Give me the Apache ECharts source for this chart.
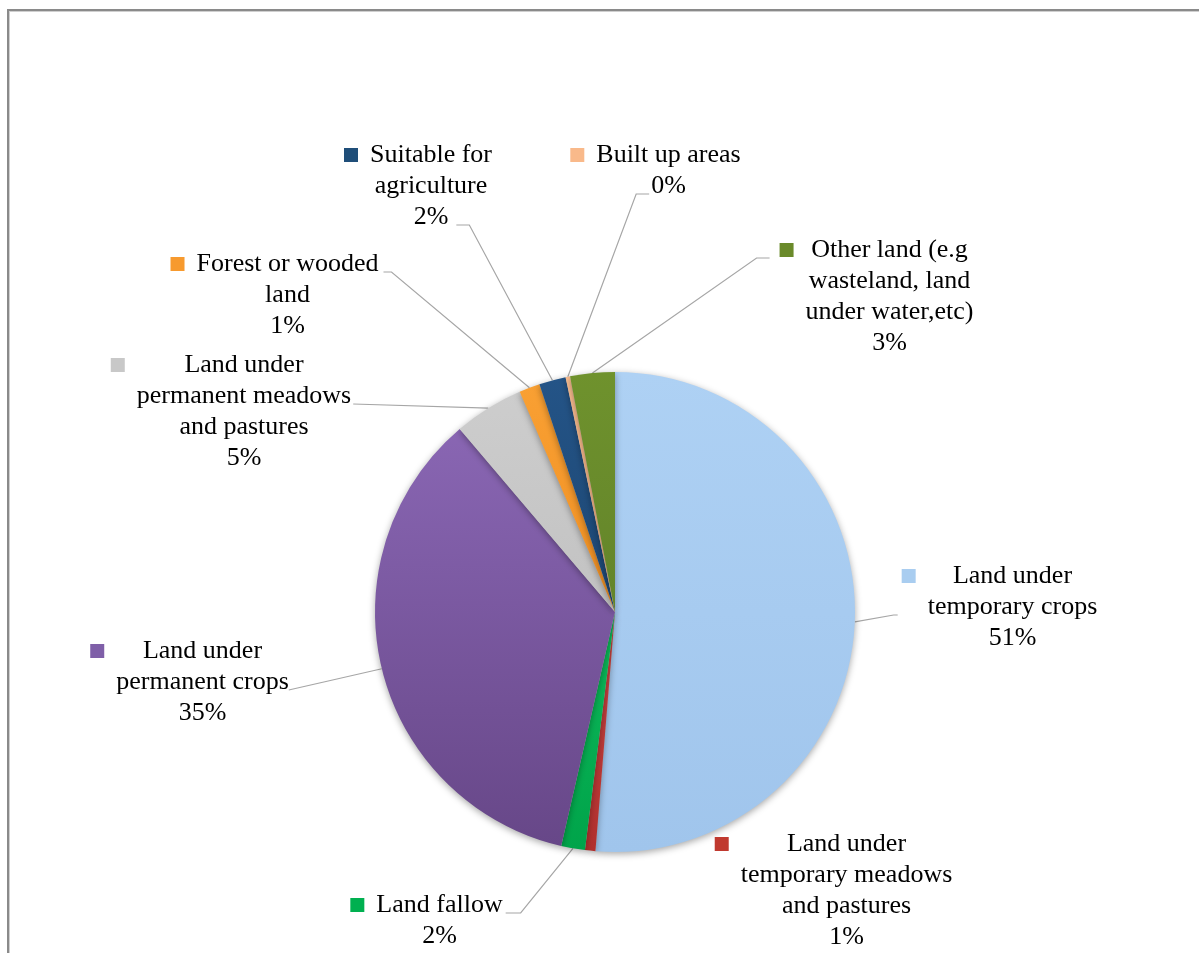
<!DOCTYPE html>
<html><head><meta charset="utf-8">
<script src="https://cdn.jsdelivr.net/npm/echarts@6/dist/echarts.min.js"></script>
<style>
html,body{margin:0;padding:0;background:#fff;overflow:hidden;}
#frame{position:absolute;left:7px;top:9px;width:1400px;height:1200px;border-left:2px solid #8a8a8a;border-top:2px solid #8a8a8a;box-shadow: inset 1px 1px 0 #cfcfcf;}
#chart{position:absolute;left:0;top:0;width:1199px;height:953px;}
</style></head><body>
<div id="frame"></div><div id="chart"></div>
<script>
// Categories (wrapped as in the original labels)
const categories = [
  'Land under\ntemporary crops',
  'Land under\ntemporary meadows\nand pastures',
  'Land fallow',
  'Land under\npermanent crops',
  'Land under\npermanent meadows\nand pastures',
  'Forest or wooded\nland',
  'Suitable for\nagriculture',
  'Built up areas',
  'Other land (e.g\nwasteland, land\nunder water,etc)'
];
// Share of land area (%)
const values = [51.3, 0.7, 1.6, 35.2, 4.7, 1.4, 1.8, 0.3, 3.0];

// Styles / layout (kept apart from data)
const colorsLight = ['#AED1F4', '#C94543', '#0DB85A', '#8966B3', '#CDCDCD', '#F9A033', '#245487', '#F9BC8F', '#6F922D'];
const colorsDark  = ['#A0C5EC', '#B1302E', '#00A44A', '#674788', '#C2C2C2', '#F08F22', '#1C4672', '#F4B080', '#63842A'];
const keyColors   = ['#A9CDF0', '#C0392F', '#00B050', '#7F5FA8', '#C8C8C8', '#F79A2E', '#1F4E79', '#F9B98A', '#6A8A2A'];
const labelPos = [[999.5,607],[833.5,890.5],[426.5,920.5],[189.5,682],[231,411.5],[274.5,295],[418,186],[655.5,170.5],[876.5,296.5]];
// leader attachment: [line index, side, edge ('text'|'box'), gap, stub length]
const leaderSpec = [
  [1, 'left', 'box', 4, 4],
  null,
  [0, 'right', 'text', 3, 15],
  [1, 'right', 'text', 0, 0],
  [1, 'right', 'text', 2, 0],
  [0, 'right', 'text', 5, 8],
  [2, 'right', 'text', 8, 13],
  [1, 'left', 'text', 2, 13],
  [0, 'left', 'box', 10, 13]
];
const hideLine = [1];

const FONT_SIZE = 26, LINE_H = 31, PAD = 26;
const FONT = '"Liberation Serif", "Times New Roman", serif';
const rich = {
  gap: { width: 12, height: 14, align: 'left', lineHeight: LINE_H },
  pad: { width: PAD, height: 14, align: 'left', lineHeight: LINE_H },
  t: { fontSize: FONT_SIZE, fontFamily: FONT, color: '#000', align: 'center', lineHeight: LINE_H }
};
keyColors.forEach((c, i) => {
  rich['sq' + i] = { width: 14, height: 14, backgroundColor: c, align: 'left', lineHeight: LINE_H };
});

const measureCtx = document.createElement('canvas').getContext('2d');
measureCtx.font = FONT_SIZE + 'px ' + FONT;

const data = values.map((v, i) => {
  const item = {
    name: categories[i],
    value: v,
    itemStyle: {
      color: new echarts.graphic.LinearGradient(0, 0, 0, 1, [
        { offset: 0, color: colorsLight[i] },
        { offset: 1, color: colorsDark[i] }
      ])
    }
  };
  if (hideLine.indexOf(i) >= 0) item.labelLine = { show: false };
  return item;
});

const chart = echarts.init(document.getElementById('chart'), null, { renderer: 'canvas' });
chart.setOption({
  backgroundColor: 'transparent',
  animation: false,
  series: [{
    type: 'pie',
    center: [615, 612],
    radius: 240,
    startAngle: 90,
    clockwise: true,
    avoidLabelOverlap: false,
    data: data,
    itemStyle: {
      borderWidth: 0,
      shadowBlur: 7,
      shadowColor: 'rgba(0,0,0,0.35)',
      shadowOffsetY: 2
    },
    emphasis: { disabled: true },
    label: {
      show: true,
      position: 'outer',
      alignTo: 'none',
      fontFamily: FONT,
      fontSize: FONT_SIZE,
      lineHeight: LINE_H,
      color: '#000',
      align: 'center',
      rich: rich,
      formatter: function (p) {
        const i = p.dataIndex;
        const lines = p.name.split('\n');
        lines.push(Math.round(p.percent) + '%');
        return lines.map((l, k) => (k === 0 ? '{sq' + i + '|}{gap|}' : '{pad|}') + '{t|' + l + '}').join('\n');
      }
    },
    labelLine: {
      show: true,
      length: 10,
      length2: 10,
      smooth: false,
      lineStyle: { color: '#A6A6A6', width: 1.2 }
    },
    labelLayout: function (params) {
      const i = params.dataIndex;
      const p = labelPos[i];
      const out = { x: p[0], y: p[1], align: 'center', verticalAlign: 'middle' };
      const spec = leaderSpec[i];
      const pts = params.labelLinePoints;
      if (spec && pts && pts.length) {
        const lines = String(params.text).split('\n').map(s => s.replace(/\{[A-Za-z0-9]+\|/g, '').replace(/\}/g, ''));
        const widths = lines.map(s => measureCtx.measureText(s).width);
        const maxW = Math.max.apply(null, widths);
        const boxW = PAD + maxW;
        const boxH = LINE_H * lines.length;
        const boxLeft = p[0] - boxW / 2;
        const textCx = boxLeft + PAD + maxW / 2;
        const k = spec[0];
        const ly = p[1] - boxH / 2 + LINE_H * k + LINE_H / 2 + 8;
        let ax;
        if (spec[1] === 'left') {
          ax = (spec[2] === 'box' ? boxLeft : textCx - widths[k] / 2) - spec[3];
        } else {
          ax = textCx + widths[k] / 2 + spec[3];
        }
        const dir = spec[1] === 'left' ? -1 : 1;
        const stubX = ax + dir * spec[4];
        out.labelLinePoints = [pts[0].slice(), [stubX, ly], [ax, ly]];
      }
      return out;
    }
  }]
});
</script>
</body></html>
